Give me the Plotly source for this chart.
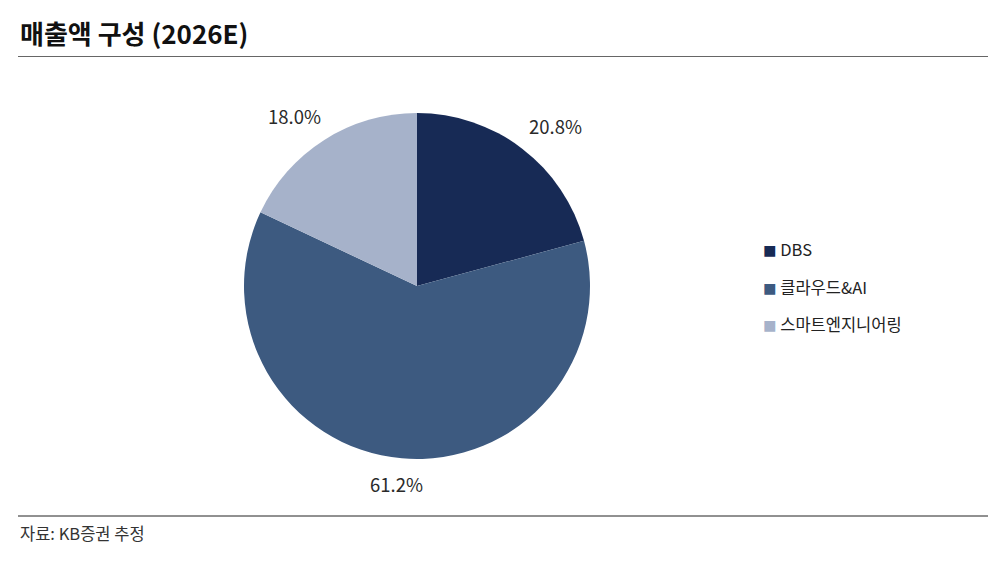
import math
import plotly.graph_objects as go

categories = ["DBS", "클라우드&AI", "스마트엔지니어링"]
values = [20.8, 61.2, 18.0]
colors = ["#172A55", "#3D5A80", "#A6B2CA"]

title_text = "매출액 구성 (2026E)"
source_text = "자료: KB증권 추정"

W, H = 1005, 568
font_family = "Noto Sans CJK KR, Noto Sans, sans-serif"

# pie geometry (pixels)
CX, CY, R = 417, 286, 173

fig = go.Figure()
fig.add_trace(go.Pie(
    labels=categories,
    values=values,
    sort=False,
    direction="clockwise",
    rotation=0,
    marker=dict(colors=colors, line=dict(width=0)),
    textinfo="none",
    domain=dict(x=[(CX - R) / W, (CX + R) / W], y=[(H - CY - R) / H, (H - CY + R) / H]),
    showlegend=False,
    hoverinfo="label+percent",
))

annotations = [
    dict(text="<b>" + title_text + "</b>", x=18 / W, y=1 - 33 / H, xref="paper", yref="paper",
         xanchor="left", yanchor="middle", showarrow=False,
         font=dict(size=26, color="#111111", family=font_family)),
    dict(text=source_text, x=18 / W, y=1 - 533 / H, xref="paper", yref="paper",
         xanchor="left", yanchor="middle", showarrow=False,
         font=dict(size=16.5, color="#333333", family=font_family)),
]

# outside percentage labels, positioned from each slice's mid-angle
total = sum(values)
cum = 0.0
gap, hw, hh = 16, 27, 10
for v in values:
    mid = (cum + v / 2) / total * 2 * math.pi
    cum += v
    ux, uy = math.sin(mid), math.cos(mid)
    px = CX + (R + gap) * ux + hw * 2 * ux / (abs(ux) + abs(uy))
    py = CY - (R + gap) * uy - hh * (1 if uy >= 0 else -1)
    annotations.append(dict(
        text=f"{v / total * 100:.1f}%", x=px / W, y=1 - py / H, xref="paper", yref="paper",
        xanchor="center", yanchor="middle", showarrow=False,
        font=dict(size=18.5, color="#2a2a2a", family=font_family)))

# legend built as text from categories/colors
for i, (cat, col) in enumerate(zip(categories, colors)):
    annotations.append(dict(
        text=f"<span style='color:{col};font-size:13.5px'>■</span> {cat}",
        x=761 / W, y=1 - (249 + i * 37.5) / H, xref="paper", yref="paper",
        xanchor="left", yanchor="middle", showarrow=False,
        font=dict(size=16.5, color="#222222", family=font_family)))

fig.update_layout(
    width=W, height=H,
    margin=dict(l=0, r=0, t=0, b=0),
    paper_bgcolor="white", plot_bgcolor="white",
    font=dict(family=font_family),
    annotations=annotations,
    shapes=[
        dict(type="line", xref="paper", yref="paper", x0=18 / W, x1=988 / W,
             y0=1 - 56.5 / H, y1=1 - 56.5 / H, line=dict(color="#666666", width=1)),
        dict(type="line", xref="paper", yref="paper", x0=18 / W, x1=988 / W,
             y0=1 - 516 / H, y1=1 - 516 / H, line=dict(color="#222222", width=1)),
    ],
)

fig.write_html("out.html")
